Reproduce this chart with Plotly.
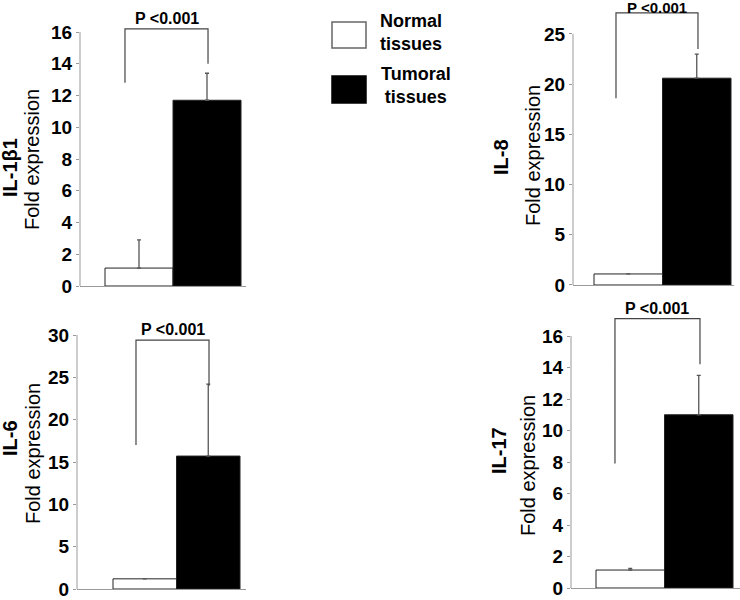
import plotly.graph_objects as go

# ---------------- data ----------------
panels = ["IL-1β1", "IL-8", "IL-6", "IL-17"]
groups = ["Normal tissues", "Tumoral tissues"]
normal_mean = [1.13, 1.10, 1.20, 1.14]
tumoral_mean = [11.7, 20.6, 15.7, 11.0]
normal_err = [1.77, 0.0, 0.0, 0.11]
tumoral_err = [1.7, 2.4, 8.5, 2.5]
y_max = [16, 25, 30, 16]
y_dtick = [2, 5, 5, 2]
p_text = ["P <0.001", "P <0.001", "P <0.001", "P <0.001"]
bracket_left_y = [12.8, 18.6, 17.0, 7.9]
bracket_right_y = [14.0, 23.5, 24.0, 14.2]
bracket_top_y = [16.2, 27.1, 29.4, 17.1]

# ---------------- geometry (pixels) ----------------
W, H = 740, 600
# axis_x0, axis_x1, white_left, black_right, y0px, ytop_px
geom = [
    (80, 246, 105, 241, 286, 32),
    (573, 734, 594, 731, 285, 34),
    (77, 246, 113, 240, 589, 335),
    (571, 740, 596, 733, 588, 336),
]
bracket_x = [(-0.206, 1.015), (-0.179, 1.018), (-0.138, 1.012), (-0.223, 1.018)]
p_text_shift = [0, -5, 0, 0]
p_text_size = [16, 15, 16, 16]
# title label centres (px): (name_x, name_y, fold_x, fold_y)
title_pos = [
    (10, 168, 32, 160),
    (501, 157, 533, 156),
    (10, 438, 33, 454),
    (499, 451, 528, 466),
]

FONT = "Arial, Liberation Sans, sans-serif"
AXC = "#999999"

fig = go.Figure()
shapes = []
annotations = []
layout_axes = {}

for i in range(4):
    n = i + 1
    xa = "x" if n == 1 else f"x{n}"
    ya = "y" if n == 1 else f"y{n}"
    ax0, ax1, wl, br, y0px, ytop = geom[i]
    w = (br - wl) / 2
    xr = [-0.5 - (wl - ax0) / w, 1.5 + (ax1 - br) / w]
    ppu = (y0px - ytop) / y_max[i]
    R = max(y_max[i], bracket_top_y[i]) * 1.01
    top_px = y0px - R * ppu

    fig.add_trace(go.Bar(
        x=[0, 1], y=[normal_mean[i], tumoral_mean[i]], width=[1, 1],
        marker=dict(color=["white", "black"], line=dict(color="#222222", width=1)),
        error_y=dict(type="data", symmetric=False,
                     array=[normal_err[i], tumoral_err[i]], arrayminus=[0, 0],
                     color="#555555", thickness=1.3, width=2),
        xaxis=xa, yaxis=ya, showlegend=False, hoverinfo="skip",
    ))
    bl, brx = bracket_x[i]
    fig.add_trace(go.Scatter(
        x=[bl, bl, brx, brx],
        y=[bracket_left_y[i], bracket_top_y[i], bracket_top_y[i], bracket_right_y[i]],
        mode="lines", line=dict(color="#444444", width=1.2),
        xaxis=xa, yaxis=ya, showlegend=False, hoverinfo="skip", cliponaxis=False,
    ))

    kx = "xaxis" if n == 1 else f"xaxis{n}"
    ky = "yaxis" if n == 1 else f"yaxis{n}"
    layout_axes[kx] = dict(
        domain=[ax0 / W, ax1 / W], range=xr, anchor=ya, automargin=False,
        showline=True, linecolor=AXC, linewidth=1, ticks="",
        showticklabels=False, showgrid=False, zeroline=False, fixedrange=True,
    )
    layout_axes[ky] = dict(
        domain=[1 - y0px / H, 1 - top_px / H], range=[0, R], anchor=xa,
        automargin=False,
        showline=False, ticks="outside", ticklen=3, tickcolor=AXC, tickwidth=1,
        tickmode="array", tickvals=list(range(0, y_max[i] + 1, y_dtick[i])),
        tickfont=dict(family=FONT, size=19, color="black", weight="bold"),
        showgrid=False, zeroline=False, fixedrange=True,
    )
    shapes.append(dict(type="line", xref=f"{xa} domain", yref=ya,
                       x0=0, x1=0, y0=0, y1=y_max[i],
                       line=dict(color=AXC, width=1)))
    annotations.append(dict(
        x=(bl + brx) / 2, y=bracket_top_y[i], xref=xa, yref=ya,
        text=f"<b>{p_text[i]}</b>", showarrow=False, yanchor="bottom",
        yshift=p_text_shift[i], font=dict(family=FONT, size=p_text_size[i], color="black"),
    ))
    nx, ny, fx, fy = title_pos[i]
    annotations.append(dict(
        x=nx / W, y=1 - ny / H, xref="paper", yref="paper", textangle=-90,
        text=f"<b>{panels[i]}</b>", showarrow=False, xanchor="center", yanchor="middle",
        font=dict(family=FONT, size=20, color="black"),
    ))
    annotations.append(dict(
        x=fx / W, y=1 - fy / H, xref="paper", yref="paper", textangle=-90,
        text="Fold expression", showarrow=False, xanchor="center", yanchor="middle",
        font=dict(family=FONT, size=20, color="black"),
    ))

# legend (boxes + labels)
legend_boxes = [(332, 22, 366, 48, "white", "#666666"), (332, 76, 366, 103, "black", "black")]
for (x0, y0, x1, y1, fc, lc) in legend_boxes:
    shapes.append(dict(type="rect", xref="paper", yref="paper",
                       x0=x0 / W, x1=x1 / W, y0=1 - y1 / H, y1=1 - y0 / H,
                       fillcolor=fc, line=dict(color=lc, width=1.5)))
legend_label_pos = [(411, 32), (416, 86)]
for g, (cx, cy) in zip(groups, legend_label_pos):
    a, b = g.split(" ")
    annotations.append(dict(
        x=cx / W, y=1 - cy / H, xref="paper", yref="paper",
        text=f"<b>{a}<br>{b}</b>", showarrow=False, align="center",
        xanchor="center", yanchor="middle",
        font=dict(family=FONT, size=18, color="black"),
    ))

fig.update_layout(
    width=W, height=H, margin=dict(l=0, r=0, t=0, b=0, autoexpand=False),
    paper_bgcolor="white", plot_bgcolor="rgba(0,0,0,0)",
    shapes=shapes, annotations=annotations, showlegend=False,
    **layout_axes,
)
fig.write_html("out.html", config={"displayModeBar": False},
               post_script="document.body.style.margin='0';")
